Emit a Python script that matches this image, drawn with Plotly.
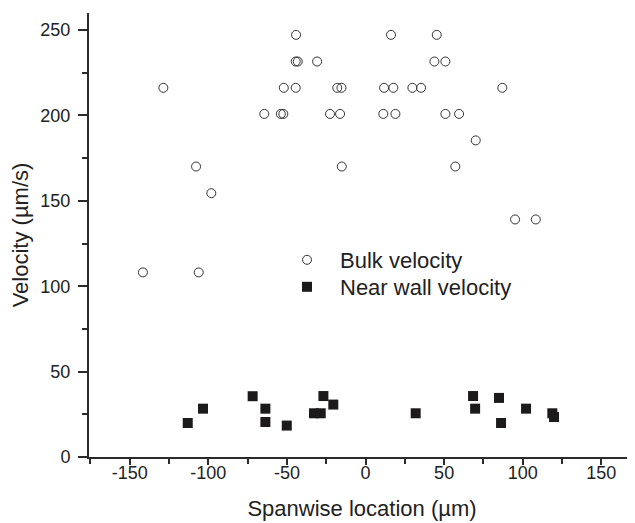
import plotly.graph_objects as go

bulk_x = [-44.2, 16.2, 45.3,
          -44.4, -43.1, -30.8, 43.8, 50.8,
          -128.6, -52.0, -44.4, -18.0, -15.3, 11.8, 17.7, 29.8, 35.3, 87.0,
          -64.4, -53.9, -52.3, -22.6, -16.2, 11.3, 19.0, 50.8, 59.5,
          70.1,
          -107.8, -15.1, 57.1,
          -98.1,
          95.1, 108.3,
          -141.6, -106.1]
bulk_y = [247.2, 247.2, 247.2,
          231.6, 231.6, 231.6, 231.6, 231.6,
          216.2, 216.2, 216.2, 216.2, 216.2, 216.2, 216.2, 216.2, 216.2, 216.2,
          200.9, 200.9, 200.9, 200.9, 200.9, 200.9, 200.9, 200.9, 200.9,
          185.4,
          170.1, 170.1, 170.1,
          154.5,
          139.1, 139.1,
          108.1, 108.1]

wall_x = [-113.1, -103.4, -71.8, -63.7, -63.7, -50.1, -32.8, -28.5, -26.8,
          -20.5, 31.9, 68.4, 69.7, 84.9, 86.2, 102.1, 118.8, 119.9]
wall_y = [19.9, 28.3, 35.6, 28.3, 20.5, 18.4, 25.6, 25.6, 35.7,
          30.7, 25.6, 35.7, 28.3, 34.6, 19.9, 28.3, 25.6, 23.4]

x_ticks = [-150, -100, -50, 0, 50, 100, 150]
y_ticks = [0, 50, 100, 150, 200, 250]

FONT = "Liberation Sans, Arial, sans-serif"
AX = "#2b2b2b"

fig = go.Figure()
fig.add_trace(go.Scatter(
    x=bulk_x, y=bulk_y, mode="markers", name="Bulk velocity", legend="legend",
    marker=dict(symbol="circle-open", size=9, color="#333333",
                line=dict(width=1, color="#333333")),
))
fig.add_trace(go.Scatter(
    x=wall_x, y=wall_y, mode="markers", name="Near wall velocity", legend="legend2",
    marker=dict(symbol="square", size=10, color="#1c1a1a"),
))

leg_common = dict(xanchor="left", yanchor="top",
                  font=dict(size=22, family=FONT, color="#222222"),
                  bgcolor="rgba(0,0,0,0)", itemwidth=56)

fig.update_layout(
    width=635, height=523,
    margin=dict(l=81, r=8, t=5, b=74, autoexpand=False),
    paper_bgcolor="white", plot_bgcolor="white",
    font=dict(family=FONT, color="#222222", size=18),
    showlegend=True,
    legend=dict(x=(274 - 89) / 546, y=(457 - 239) / 444, **leg_common),
    legend2=dict(x=(274 - 89) / 546, y=(457 - 266) / 444, **leg_common),
)
fig.update_xaxes(
    range=[-175.9, 171.4], tickvals=x_ticks, ticktext=[str(v) for v in x_ticks],
    showgrid=False, zeroline=False, showline=True, linecolor=AX, linewidth=2,
    ticks="outside", ticklen=6, tickwidth=1.5, tickcolor=AX,
    minor=dict(tickvals=[-175, -125, -75, -25, 25, 75, 125, 175], ticks="outside",
               ticklen=5, tickwidth=1.5, tickcolor=AX),
    tickfont=dict(size=18), ticklabelstandoff=-8,
    title=dict(text="Spanwise location (µm)", font=dict(size=22), standoff=19),
    automargin=False,
)
fig.update_yaxes(
    range=[0, 260], tickvals=y_ticks, ticktext=[str(v) for v in y_ticks],
    showgrid=False, zeroline=False, showline=True, linecolor=AX, linewidth=2,
    ticks="outside", ticklen=9, tickwidth=1.5, tickcolor=AX,
    minor=dict(tickvals=[25, 75, 125, 175, 225], ticks="outside",
               ticklen=5, tickwidth=1.5, tickcolor=AX),
    tickfont=dict(size=18), ticklabelstandoff=4,
    title=dict(text="Velocity (µm/s)", font=dict(size=22), standoff=10),
    automargin=False,
)

fig.write_html("out.html")
